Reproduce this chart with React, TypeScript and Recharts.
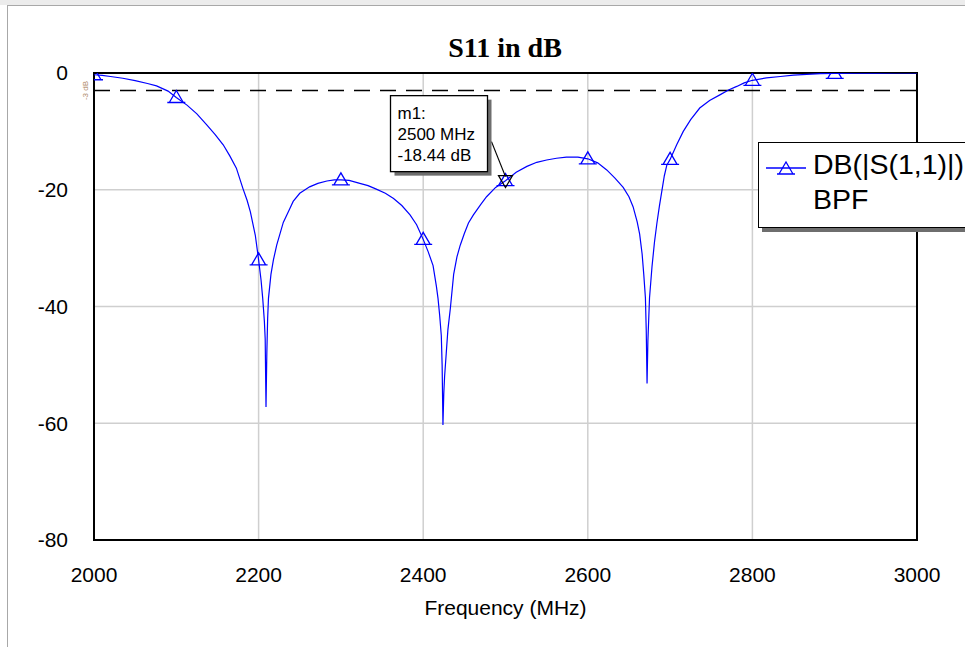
import React from "react";
import {
  LineChart,
  Line,
  XAxis,
  YAxis,
  CartesianGrid,
  ReferenceLine,
  ReferenceArea,
  ReferenceDot,
} from "recharts";

// Frequency sweep (MHz)
const FREQ = [
  2000, 2010, 2020, 2035, 2050, 2065, 2076, 2090, 2100, 2113, 2125, 2137, 2147,
  2157, 2165, 2173, 2181, 2186, 2190, 2196, 2200, 2203, 2205, 2207, 2208, 2209,
  2210, 2211, 2212, 2215, 2218, 2222, 2230, 2238, 2242, 2250, 2262, 2272, 2283,
  2292, 2300, 2310, 2323, 2333, 2343, 2354, 2364, 2374, 2384, 2392, 2400, 2406,
  2412, 2416, 2418, 2420, 2422, 2423, 2424, 2425, 2426, 2428, 2430, 2433, 2437,
  2441, 2445, 2450, 2455, 2461, 2470, 2477, 2488, 2500, 2513, 2526, 2538, 2550,
  2562, 2574, 2588, 2600, 2612, 2623, 2633, 2643, 2650, 2655, 2660, 2663, 2666,
  2668, 2670, 2671, 2672, 2673, 2675, 2678, 2681, 2684, 2687, 2690, 2693, 2696,
  2700, 2708, 2716, 2725, 2736, 2748, 2761, 2771, 2781, 2790, 2800, 2817, 2834,
  2850, 2866, 2883, 2900, 2925, 2950, 2975, 3000,
];

// DB(|S(1,1)|) of BPF
const S11_DB = [
  -0.3, -0.4, -0.6, -0.9, -1.3, -1.8, -2.2, -3.1, -4.2, -5.5, -7.0, -8.9, -10.5,
  -12.3, -14.2, -16.3, -19.8, -21.8, -23.8, -27.8, -32.0, -35.5, -38.6, -42.5,
  -45.5, -57.2, -48.0, -42.0, -38.6, -34.5, -32.0, -29.5, -25.6, -23.2, -22.0,
  -20.6, -19.5, -18.9, -18.5, -18.3, -18.3, -18.4, -18.9, -19.3, -19.9, -20.6,
  -21.5, -22.7, -24.3, -26.0, -28.5, -30.6, -33.0, -36.5, -38.6, -41.5, -45.0,
  -50.0, -60.3, -55.0, -52.0, -48.0, -44.0, -40.3, -34.5, -31.5, -29.5, -27.5,
  -25.7, -24.3, -22.5, -21.2, -19.6, -18.44, -17.0, -16.0, -15.3, -14.9, -14.6,
  -14.4, -14.4, -14.7, -15.4, -16.6, -18.0, -19.6, -21.2, -22.9, -25.5, -27.6,
  -31.0, -34.5, -38.5, -44.0, -53.2, -46.0, -38.5, -33.2, -29.0, -25.7, -22.8,
  -20.2, -17.6, -15.8, -14.8, -12.3, -10.0, -8.0, -6.0, -4.7, -3.7, -2.9, -2.3,
  -1.7, -1.25, -0.85, -0.6, -0.38, -0.22, -0.12, -0.07, -0.03, -0.01, 0, 0,
];

const X_TICKS = [2000, 2200, 2400, 2600, 2800, 3000];
const Y_TICKS = [0, -20, -40, -60, -80];
const MARKER_FREQS = [2000, 2100, 2200, 2300, 2400, 2500, 2600, 2700, 2800, 2900];

const TITLE = "S11 in dB";
const X_LABEL = "Frequency (MHz)";
const SERIES_NAME = "DB(|S(1,1)|)";
const SERIES_SUB = "BPF";
const M1_NAME = "m1:";
const M1_FREQ = 2500;
const M1_DB = -18.44;
const THRESH_DB = -3;
const THRESH_LABEL = "-3 dB";

const data = FREQ.map((f, i) => ({ f, db: S11_DB[i] }));

const BLUE = "#0000ff";
const SANS = "'Liberation Sans', Arial, sans-serif";

const tri = (cx: number, cy: number) =>
  `M${cx - 9},${cy + 5} H${cx + 9} M${cx - 7},${cy + 5} L${cx},${cy - 7} L${cx + 7},${cy + 5}`;

const renderDot = (props: any) => {
  const { cx, cy, payload, index } = props;
  if (!MARKER_FREQS.includes(payload.f) || cx == null || cy == null) {
    return <g key={`d${index}`} />;
  }
  return (
    <path
      key={`d${index}`}
      d={tri(cx, cy)}
      fill="none"
      stroke={BLUE}
      strokeWidth={1.3}
    />
  );
};

const MarkerShape = (props: any) => {
  const { cx, cy } = props;
  if (cx == null || cy == null) return <g />;
  const bx = cx - 115;
  const by = cy - 85;
  const bw = 97;
  const bh = 76;
  return (
    <g>
      <path
        d={`M${cx - 7},${cy - 5} L${cx},${cy + 7} L${cx + 7},${cy - 5} Z`}
        fill="none"
        stroke="#000"
        strokeWidth={1.2}
      />
      <line x1={cx - 14} y1={cy - 39} x2={cx} y2={cy - 4} stroke="#000" strokeWidth={1.2} />
      <rect x={bx + 4} y={by + 4} width={bw} height={bh} fill="#6e6e6e" />
      <rect x={bx} y={by} width={bw} height={bh} fill="#fff" stroke="#000" strokeWidth={1.3} />
      <g fontFamily={SANS} fontSize={17} fill="#000">
        <text x={bx + 7} y={cy - 62}>{M1_NAME}</text>
        <text x={bx + 7} y={cy - 41}>{`${M1_FREQ} MHz`}</text>
        <text x={bx + 7} y={cy - 20}>{`${M1_DB.toFixed(2)} dB`}</text>
      </g>
    </g>
  );
};

const LegendBox = () => (
  <div
    style={{
      position: "absolute",
      left: 758,
      top: 142,
      width: 230,
      height: 86,
      border: "1.5px solid #000",
      background: "#fff",
      boxShadow: "4px 4px 0 #6e6e6e",
      boxSizing: "border-box",
      fontFamily: SANS,
      fontSize: 28.5,
      lineHeight: "35px",
      color: "#000",
      paddingTop: 4,
      paddingLeft: 54,
      whiteSpace: "nowrap",
    }}
  >
    <svg
      width={42}
      height={16}
      style={{ position: "absolute", left: 7, top: 17 }}
    >
      <line x1={0} y1={8} x2={40} y2={8} stroke={BLUE} strokeWidth={1.3} />
      <path d={tri(20, 9)} fill="none" stroke={BLUE} strokeWidth={1.3} />
    </svg>
    <div>{SERIES_NAME}</div>
    <div>{SERIES_SUB}</div>
  </div>
);

export default function App() {
  return (
    <div
      style={{
        position: "absolute",
        left: 0,
        top: 0,
        width: 965,
        height: 647,
        overflow: "hidden",
        background: "#fff",
      }}
    >
      <div style={{ position: "absolute", left: 0, top: 0, width: 965, height: 5, background: "#ececec" }} />
      <div
        style={{
          position: "absolute",
          left: 7,
          top: 5,
          width: 1000,
          height: 700,
          borderLeft: "1px solid #a8a8a8",
          borderTop: "1px solid #a8a8a8",
        }}
      />
      <div
        style={{
          position: "absolute",
          left: 505,
          top: 34,
          transform: "translateX(-50%)",
          fontFamily: "'Liberation Serif', 'Times New Roman', serif",
          fontWeight: "bold",
          fontSize: 28,
          lineHeight: "28px",
          whiteSpace: "nowrap",
          color: "#000",
        }}
      >
        {TITLE}
      </div>
      <div style={{ position: "absolute", left: 0, top: 0 }}>
        <LineChart
          width={965}
          height={647}
          data={data}
          margin={{ top: 73, right: 48, bottom: 47, left: 34 }}
        >
          <CartesianGrid stroke="#cfcfcf" strokeWidth={1.5} />
          <XAxis
            dataKey="f"
            type="number"
            domain={[2000, 3000]}
            ticks={X_TICKS}
            allowDataOverflow
            axisLine={false}
            tickLine={false}
            tickSize={0}
            tickMargin={27}
            height={60}
            tick={{ fill: "#000", fontSize: 21, fontFamily: SANS }}
            label={{
              value: X_LABEL,
              position: "bottom",
              offset: 0,
              fill: "#000",
              fontSize: 21,
              fontFamily: SANS,
            }}
          />
          <YAxis
            type="number"
            domain={[-80, 0]}
            ticks={Y_TICKS}
            allowDataOverflow
            axisLine={false}
            tickLine={false}
            tickSize={0}
            tickMargin={26}
            width={60}
            tick={{ fill: "#000", fontSize: 21, fontFamily: SANS }}
          />
          <ReferenceLine
            y={THRESH_DB}
            stroke="#000"
            strokeWidth={1.5}
            strokeDasharray="16 10"
            label={(p: any) => {
              const vb = p.viewBox || {};
              const x = (vb.x ?? 94) - 6;
              const y = vb.y ?? 90;
              return (
                <text
                  x={x}
                  y={y}
                  transform={`rotate(-90 ${x} ${y})`}
                  textAnchor="middle"
                  fontSize={8}
                  fontFamily={SANS}
                  fill="#b08a6a"
                >
                  {THRESH_LABEL}
                </text>
              );
            }}
          />
          <ReferenceArea
            x1={2000}
            x2={3000}
            y1={-80}
            y2={0}
            fill="none"
            fillOpacity={0}
            stroke="#000"
            strokeWidth={2}
            ifOverflow="visible"
          />
          <Line
            type="linear"
            dataKey="db"
            name={SERIES_NAME}
            stroke={BLUE}
            strokeWidth={1.2}
            dot={renderDot}
            activeDot={false}
            isAnimationActive={false}
          />
          <ReferenceDot
            x={M1_FREQ}
            y={M1_DB}
            shape={MarkerShape}
            ifOverflow="visible"
          />
        </LineChart>
      </div>
      <LegendBox />
    </div>
  );
}
